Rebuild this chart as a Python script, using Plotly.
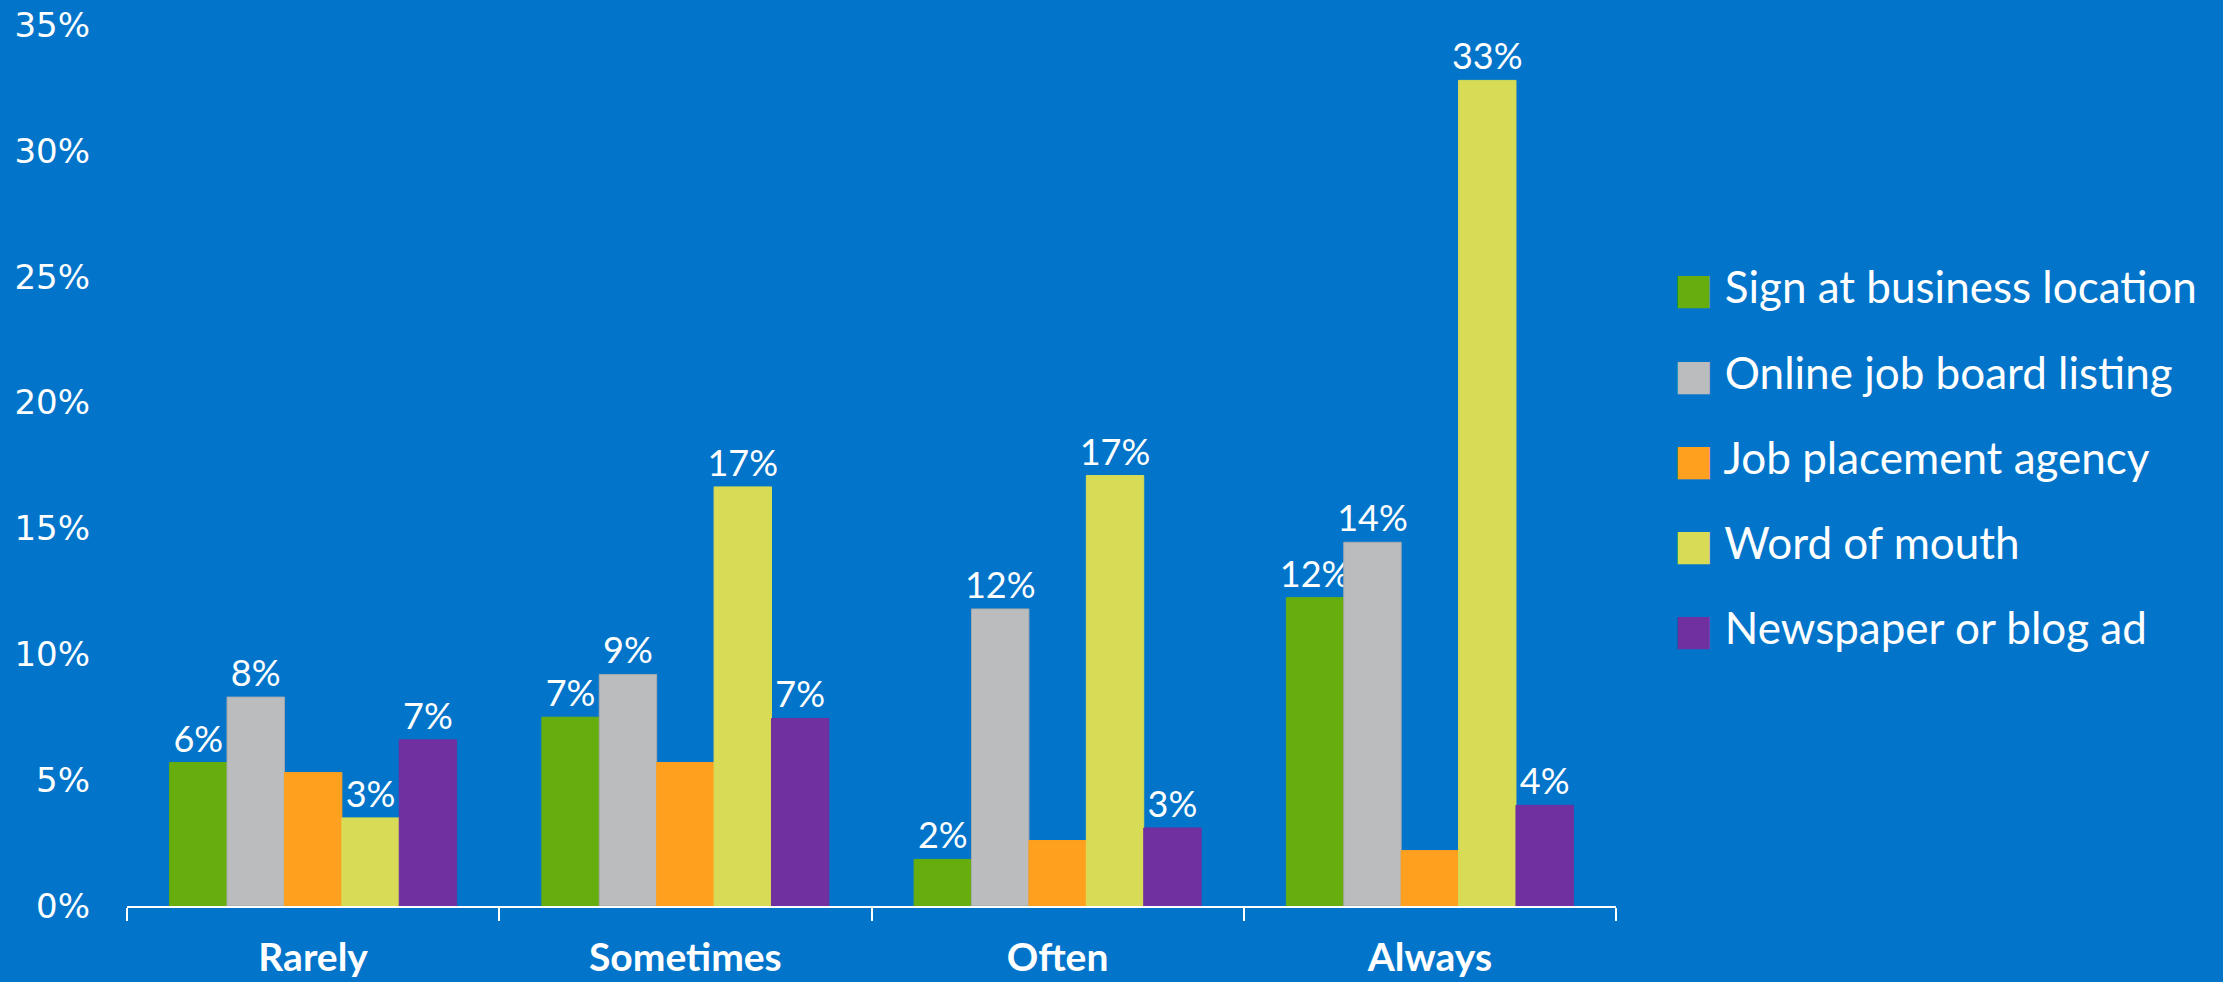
import plotly.graph_objects as go

categories = ["Rarely", "Sometimes", "Often", "Always"]
series_names = ["Sign at business location", "Online job board listing",
                "Job placement agency", "Word of mouth", "Newspaper or blog ad"]
sign_at_business = [5.7, 7.5, 1.85, 12.25]
online_job_board = [8.3, 9.2, 11.8, 14.45]
job_placement = [5.3, 5.7, 2.6, 2.2]
word_of_mouth = [3.5, 16.65, 17.1, 32.8]
newspaper_blog = [6.6, 7.45, 3.1, 4.0]
labels_sign = ["6%", "7%", "2%", "12%"]
labels_online = ["8%", "9%", "12%", "14%"]
labels_agency = ["", "", "", ""]
labels_word = ["3%", "17%", "17%", "33%"]
labels_news = ["7%", "7%", "3%", "4%"]
y_ticks = [0, 5, 10, 15, 20, 25, 30, 35]

values = [sign_at_business, online_job_board, job_placement, word_of_mouth, newspaper_blog]
labels = [labels_sign, labels_online, labels_agency, labels_word, labels_news]
colors = ["#66AE0E", "#BBBCBE", "#FFA01E", "#D8DB56", "#7030A0"]
line_colors = ["#66AE0E", "#A9AAAD", "#FFA01E", "#D8DB56", "#7030A0"]

BG = "#0275CA"
fig = go.Figure()
for name, vals, labs, c, lc in zip(series_names, values, labels, colors, line_colors):
    fig.add_trace(go.Bar(
        x=categories, y=vals, name=name, text=labs,
        textposition="outside", cliponaxis=False, constraintext="none",
        textfont=dict(family="Lato", size=36, color="white"),
        marker=dict(color=c, line=dict(color=lc, width=1)),
        showlegend=False, hoverinfo="skip",
    ))

# legend entries (large coloured squares as text)
for i, (name, c) in enumerate(zip(series_names, colors)):
    fig.add_trace(go.Scatter(
        x=[None], y=[None], mode="lines",
        line=dict(width=0, color="rgba(0,0,0,0)"),
        name=f"<span style='color:{c};font-family:DejaVu Sans;font-size:42px'>■</span> {name}",
        legendgroup=f"g{i}", showlegend=True, hoverinfo="skip",
    ))

fig.update_layout(
    width=2223, height=982,
    paper_bgcolor=BG, plot_bgcolor=BG,
    margin=dict(l=127, r=607, t=25, b=76),
    barmode="group", bargap=0.229, bargroupgap=0,
    legend=dict(
        x=1.012, y=0.51, xanchor="left", yanchor="middle",
        font=dict(family="Lato", size=44, color="white"),
        bgcolor="rgba(0,0,0,0)", tracegroupgap=25, itemwidth=30,
    ),
    xaxis=dict(
        showgrid=False, showline=True, linecolor="white", linewidth=2,
        ticks="outside", tickson="boundaries", ticklen=13, tickwidth=2, tickcolor="white",
        tickfont=dict(family="Lato", size=39, color="white", weight="bold"),
        ticklabelstandoff=16, zeroline=False, automargin=False,
    ),
    yaxis=dict(
        range=[0, 35], tickvals=y_ticks, ticktext=[f"{v}%" for v in y_ticks],
        showgrid=False, showline=False, zeroline=False, ticks="",
        tickfont=dict(family="DejaVu Sans", size=34, color="white"),
        ticklabelstandoff=36, automargin=False,
    ),
)
fig.write_html(
    "out.html",
    config={"displayModeBar": False},
    post_script=f"document.body.style.margin='0';document.body.style.background='{BG}';",
)
